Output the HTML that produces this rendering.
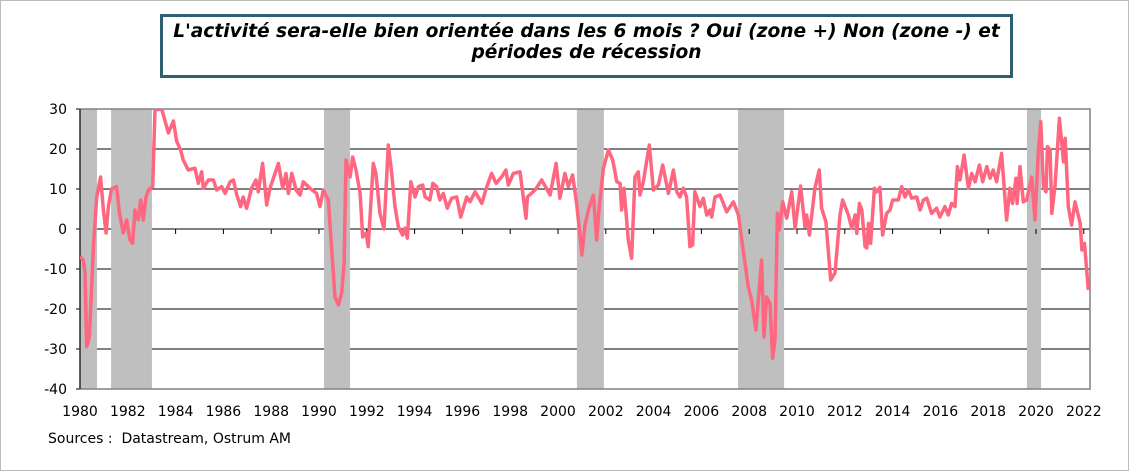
<!DOCTYPE html>
<html><head><meta charset="utf-8"><style>
body{margin:0;background:#fff;}
#wrap{position:relative;width:1129px;height:471px;overflow:hidden;background:#fff;}
#title{position:absolute;left:160px;top:14px;width:847px;height:54px;border:3px solid #2e5f73;background:#fff;
font-family:"DejaVu Sans","Liberation Sans",sans-serif;font-weight:bold;font-style:italic;font-size:18.6px;
text-align:center;line-height:21px;padding-top:4px;box-sizing:content-box;color:#000;white-space:nowrap;}
#src{position:absolute;left:48px;top:431px;font-family:"DejaVu Sans","Liberation Sans",sans-serif;font-size:14px;color:#000;}
svg text{font-family:"DejaVu Sans","Liberation Sans",sans-serif;font-size:14px;fill:#000;}
</style></head><body>
<div id="wrap">
<svg id="chart" width="1129" height="471" style="position:absolute;left:0;top:0">
<rect x="0.5" y="0.5" width="1128" height="470" fill="none" stroke="#bbb"/>
</svg>
<div id="title">L'activité sera-elle bien orientée dans les 6 mois ? Oui (zone +) Non (zone -) et<br>périodes de récession</div>
<div id="src">Sources :&nbsp; Datastream, Ostrum AM</div>
</div>
<script>
const yTicks=[30,20,10,0,-10,-20,-30,-40];
const xTickLabels=[1980,1982,1984,1986,1988,1990,1992,1994,1996,1998,2000,2002,2004,2006,2008,2010,2012,2014,2016,2018,2020,2022];
const recStart=[1980.00,1981.30,1990.21,2000.79,2007.53,2019.62];
const recEnd=[1980.71,1983.01,1991.30,2001.92,2009.46,2020.21];
const years=[1980.00,1980.14,1980.21,1980.28,1980.39,1980.49,1980.56,1980.70,1980.86,1980.98,1981.09,1981.19,1981.32,1981.53,1981.65,1981.81,1981.95,1982.09,1982.20,1982.30,1982.44,1982.54,1982.65,1982.76,1982.86,1983.04,1983.14,1983.42,1983.70,1983.91,1984.04,1984.21,1984.32,1984.53,1984.81,1984.95,1985.09,1985.16,1985.37,1985.58,1985.72,1985.93,1986.07,1986.28,1986.42,1986.56,1986.72,1986.83,1986.97,1987.18,1987.36,1987.46,1987.64,1987.81,1987.95,1988.30,1988.48,1988.62,1988.72,1988.86,1989.04,1989.21,1989.34,1989.62,1989.90,1990.04,1990.18,1990.39,1990.53,1990.67,1990.81,1990.95,1991.05,1991.13,1991.30,1991.41,1991.55,1991.72,1991.83,1991.97,1992.06,1992.27,1992.38,1992.55,1992.72,1992.90,1993.04,1993.18,1993.32,1993.50,1993.60,1993.70,1993.84,1994.02,1994.16,1994.34,
1994.44,1994.64,1994.76,1994.92,1995.06,1995.20,1995.37,1995.55,1995.76,1995.93,1996.18,1996.32,1996.53,1996.81,1997.02,1997.22,1997.41,1997.64,1997.82,1997.92,1998.13,1998.41,1998.66,1998.72,1999.04,1999.32,1999.67,1999.92,2000.08,2000.29,2000.43,2000.61,2000.78,2000.89,2001.00,2001.13,2001.31,2001.48,2001.62,2001.73,2001.90,2002.11,2002.29,2002.46,2002.60,2002.66,2002.76,2002.94,2003.08,2003.22,2003.36,2003.43,2003.57,2003.82,2003.99,2004.20,2004.38,2004.62,2004.83,2004.97,2005.10,2005.24,2005.38,2005.52,2005.63,2005.73,2005.94,2006.08,2006.22,2006.36,2006.43,2006.57,2006.78,2007.06,2007.34,2007.55,2007.73,2007.96,2008.10,2008.28,2008.52,2008.62,2008.73,2008.87,2008.98,2009.08,2009.18,2009.26,
2009.40,2009.57,2009.78,2009.92,2010.15,2010.33,2010.40,2010.52,2010.75,2010.93,2011.03,2011.21,2011.41,2011.59,2011.80,2011.91,2012.15,2012.29,2012.43,2012.50,2012.61,2012.71,2012.85,2012.92,2012.99,2013.08,2013.24,2013.33,2013.47,2013.58,2013.75,2013.89,2014.00,2014.24,2014.38,2014.52,2014.66,2014.80,2015.01,2015.15,2015.29,2015.43,2015.63,2015.84,2015.98,2016.19,2016.33,2016.47,2016.61,2016.71,2016.82,2016.99,2017.17,2017.31,2017.45,2017.63,2017.77,2017.94,2018.08,2018.21,2018.35,2018.56,2018.77,2018.91,2019.02,2019.16,2019.21,2019.33,2019.47,2019.61,2019.82,2019.96,2020.10,2020.20,2020.31,2020.42,2020.48,2020.59,2020.66,2020.80,2020.98,2021.15,2021.22,2021.35,2021.49,2021.63,2021.85,2021.92,2022.03,2022.19];
const values=[-6.9,-7.8,-11,-29.4,-27,-14.4,-4.4,8,13,4.75,-1,5.6,10,10.6,4,-1,2.25,-2.75,-3.6,4.75,2.25,7.25,2.25,8,9.75,10.6,29.75,30,24,27,22,19.75,17.25,14.75,15.2,11.4,14.3,10.2,12.25,12.25,9.75,10.6,8.9,11.8,12.25,8.5,5.6,8,5.2,10.2,12.25,9.3,16.4,6,10.2,16.4,10.2,13.9,8.9,13.9,9.75,8.5,11.8,10.2,8.9,5.6,9.75,7.25,-5.25,-17,-19,-16,-8.6,17.25,13,18,14.75,8.9,-2,-1,-4.4,16.4,13.9,4,0,21,13.9,5.6,0.6,-1.5,0.2,-2.3,11.8,8,10.6,11,
8,7.25,11.4,10.6,7.25,8.9,5.2,7.7,8,3,8,6.8,9.3,6.4,10.6,13.9,11.4,13,14.75,11,13.9,14.3,2.7,8,9.75,12.25,8.5,16.4,7.7,13.9,10.6,13.5,6.4,0,-6.5,1,5.6,8.5,-2.75,5.6,15.2,19.75,17.25,11.8,11.4,4.75,10.2,-2.75,-7.3,13,14.3,8.5,11.8,21,9.75,11,16,8.9,14.75,9.3,8,10.2,8,-4.4,-4,9.3,5.6,7.7,3.5,4.75,3,8,8.5,4.3,6.8,3.5,-4.4,-14.4,-17.75,-25.25,-7.75,-27,-17,-18.6,-32.3,-27.75,3.9,-0.25,
6.8,2.7,9.3,0.2,10.75,0.6,3.5,-1.5,10.2,14.75,5.2,1.8,-12.75,-11,3.5,7.25,3.5,0.2,3.5,-1.1,6.4,4.75,-4.4,-4.75,1.4,-3.6,10.2,9.3,10.4,-1.5,3.9,4.75,7.25,7.25,10.6,8,9.75,7.7,8,4.75,7.25,7.7,3.9,5.2,3,5.6,3.5,6.4,5.6,15.6,12.25,18.5,10.2,13.9,11.8,16,11.8,15.6,12.7,14.75,11.8,18.9,2.25,10.2,6.4,12.7,6.4,15.6,6.8,7.25,13,2.25,19.75,26.8,10.6,9.3,20.6,19.75,3.9,11,27.7,16.8,22.7,5.6,1,6.8,1.4,-5.25,-3.6,-15.25];

const svg=document.getElementById('chart');
const NS='http://www.w3.org/2000/svg';
const L=80,R=1090,T=109,B=389,Y0=1980,PXY=23.9,YMAX=30,YMIN=-40;
const xs=y=>L+(y-Y0)*PXY;
const ys=v=>T+(YMAX-v)/(YMAX-YMIN)*(B-T);
function mk(tag,attrs){const e=document.createElementNS(NS,tag);for(const k in attrs)e.setAttribute(k,attrs[k]);svg.appendChild(e);return e;}
const defs=mk('defs',{});
const cp=document.createElementNS(NS,'clipPath');cp.setAttribute('id','pc');
const cr=document.createElementNS(NS,'rect');cr.setAttribute('x',L);cr.setAttribute('y',T);cr.setAttribute('width',R-L);cr.setAttribute('height',B-T);
cp.appendChild(cr);defs.appendChild(cp);
yTicks.forEach(v=>{
  const g=mk('line',{x1:L,x2:R,y1:ys(v),y2:ys(v),stroke:'#000','stroke-width':1});
  
  
  const tk=mk('line',{x1:L-4,x2:L,y1:ys(v),y2:ys(v),stroke:'#000'});
  
  
  const t=mk('text',{x:L-13,y:ys(v)+5,'text-anchor':'end'});t.textContent=v;
  
  
});
for(let i=0;i<recStart.length;i++){
  const r=mk('rect',{x:xs(recStart[i]),y:T,width:xs(recEnd[i])-xs(recStart[i]),height:B-T,fill:'#bfbfbf'});
  
  
}
xTickLabels.forEach(yr=>{
  const tk=mk('line',{x1:xs(yr),x2:xs(yr),y1:ys(0),y2:ys(0)+5,stroke:'#000'});
  
  
  const t=mk('text',{x:xs(yr),y:416,'text-anchor':'middle'});t.textContent=yr;
  
  
});
const pb=mk('rect',{x:L,y:T,width:R-L,height:B-T,fill:'none',stroke:'#808080','stroke-width':1.5});


const ya=mk('line',{x1:L,x2:L,y1:T,y2:B,stroke:'#000'});


const d=years.map((y,i)=>(i?'L':'M')+xs(y).toFixed(1)+','+ys(values[i]).toFixed(1)).join('');
const p=mk('path',{d:d,fill:'none',stroke:'#ff6680','stroke-width':3.5,'stroke-linejoin':'round','clip-path':'url(#pc)'});


</script>
</body></html>
